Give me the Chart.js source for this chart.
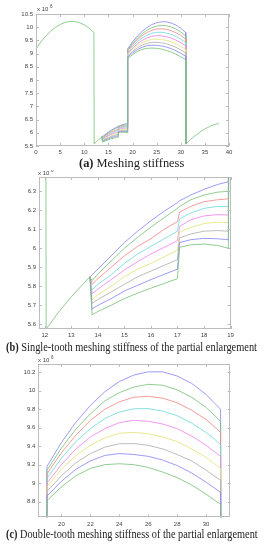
<!DOCTYPE html>
<html><head><meta charset="utf-8">
<script src="https://cdn.jsdelivr.net/npm/chart.js@4/dist/chart.umd.min.js"></script>
<style>
html,body{margin:0;padding:0;background:#fff;width:265px;height:550px;overflow:hidden;position:relative;}
canvas{position:absolute;left:0;}
.cap{position:absolute;left:0;top:0;font-family:"Liberation Serif","DejaVu Serif",serif;font-size:13px;color:#222;white-space:nowrap;transform-origin:0 50%;line-height:13px;}
.cap b{font-weight:bold;}
</style></head><body>
<canvas id="ca" width="265" height="160" style="top:0"></canvas>
<canvas id="cb" width="265" height="170" style="top:170px"></canvas>
<canvas id="cc" width="265" height="172" style="top:355px"></canvas>
<div class="cap" id="capA"><b>(a)</b> Meshing stiffness</div>
<div class="cap" id="capB"><b>(b)</b> Single-tooth meshing stiffness of the partial enlargement</div>
<div class="cap" id="capC"><b>(c)</b> Double-tooth meshing stiffness of the partial enlargement</div>
<script>
// ---------------- data (values in units of 10^6) ----------------
// first double-tooth interval, identical for every case
const firstDoubleX = [0, 1, 2, 3, 4, 5, 6, 7, 7.5, 8, 9, 10, 11, 12];
const firstDoubleY = [9.17, 9.44, 9.66, 9.84, 9.99, 10.10, 10.18, 10.215, 10.22, 10.215, 10.17, 10.09, 9.97, 9.80];

// shared start of the single-tooth interval
const sharedRiseX = [12.05, 12.5, 13, 13.5, 13.7];
const sharedRiseY = [5.575, 5.66, 5.745, 5.82, 5.85];

// single-tooth interval, part 1 (per case)
const singleX1 = [13.78, 14, 14.5, 15, 15.5, 16, 16.5, 17];
const single1 = [
  [5.86, 5.89, 5.96, 6.03, 6.09, 6.145, 6.195, 6.24],
  [5.83, 5.864, 5.933, 6.00, 6.058, 6.111, 6.161, 6.21],
  [5.81, 5.84, 5.90, 5.96, 6.01, 6.05, 6.10, 6.14],
  [5.78, 5.81, 5.86, 5.92, 5.97, 6.01, 6.05, 6.09],
  [5.76, 5.785, 5.835, 5.885, 5.93, 5.97, 6.005, 6.04],
  [5.73, 5.755, 5.80, 5.85, 5.89, 5.92, 5.955, 5.99],
  [5.71, 5.73, 5.77, 5.81, 5.85, 5.88, 5.91, 5.94],
  [5.68, 5.70, 5.735, 5.775, 5.805, 5.835, 5.863, 5.89],
  [5.65, 5.667, 5.70, 5.735, 5.764, 5.79, 5.815, 5.84]
];

// single-tooth interval, part 2 (per case)
const singleX2 = [17.08, 17.5, 18, 18.5, 18.92];
const single2 = [
  [6.25, 6.28, 6.31, 6.335, 6.35],
  [6.22, 6.255, 6.28, 6.295, 6.30],
  [6.19, 6.22, 6.245, 6.255, 6.26],
  [6.155, 6.185, 6.21, 6.22, 6.22],
  [6.115, 6.15, 6.17, 6.177, 6.175],
  [6.085, 6.11, 6.13, 6.137, 6.135],
  [6.055, 6.075, 6.09, 6.093, 6.09],
  [6.03, 6.045, 6.052, 6.05, 6.045],
  [6.005, 6.018, 6.022, 6.015, 6.00]
];

// double-tooth interval (per case)
const doubleX = [19, 20, 21, 22, 23, 24, 25, 26, 27, 28, 29, 30, 31];
const double1 = [
  [9.18, 9.44, 9.66, 9.84, 9.99, 10.10, 10.17, 10.205, 10.205, 10.16, 10.08, 9.96, 9.80],
  [9.14, 9.38, 9.585, 9.75, 9.89, 9.98, 10.04, 10.07, 10.06, 10.01, 9.93, 9.82, 9.67],
  [9.10, 9.33, 9.52, 9.68, 9.80, 9.88, 9.93, 9.94, 9.92, 9.87, 9.79, 9.69, 9.55],
  [9.05, 9.27, 9.45, 9.59, 9.70, 9.77, 9.805, 9.807, 9.78, 9.73, 9.65, 9.55, 9.42],
  [9.00, 9.20, 9.37, 9.50, 9.59, 9.655, 9.68, 9.67, 9.64, 9.59, 9.51, 9.41, 9.29],
  [8.96, 9.15, 9.30, 9.41, 9.49, 9.54, 9.55, 9.535, 9.50, 9.45, 9.37, 9.28, 9.16],
  [8.91, 9.08, 9.22, 9.32, 9.39, 9.426, 9.428, 9.41, 9.37, 9.31, 9.24, 9.14, 9.03],
  [8.86, 9.02, 9.15, 9.24, 9.30, 9.32, 9.31, 9.29, 9.25, 9.19, 9.11, 9.01, 8.90],
  [8.81, 8.96, 9.08, 9.16, 9.20, 9.21, 9.20, 9.17, 9.12, 9.06, 8.98, 8.88, 8.77]
];

// last single-tooth interval, identical for every case
const lastSingleX = [31.05, 31.5, 32, 32.5, 32.7, 33, 33.5, 34, 34.5, 35, 35.5, 36, 36.5, 37, 37.5, 37.9];
const lastSingleY = [5.575, 5.66, 5.745, 5.82, 5.85, 5.89, 5.96, 6.03, 6.09, 6.145, 6.195, 6.24, 6.28, 6.31, 6.335, 6.35];

// tick labels
const xTicksA = [0, 5, 10, 15, 20, 25, 30, 35, 40];
const yTicksA = [5.5, 6, 6.5, 7, 7.5, 8, 8.5, 9, 9.5, 10, 10.5];
const xTicksB = [12, 13, 14, 15, 16, 17, 18, 19];
const yTicksB = [5.6, 5.7, 5.8, 5.9, 6, 6.1, 6.2, 6.3];
const xTicksC = [20, 22, 24, 26, 28, 30];
const yTicksC = [8.8, 9, 9.2, 9.4, 9.6, 9.8, 10, 10.2];

// ---------------- styles ----------------
const lineColors = ['#8a8af4', '#7cc47c', '#f48a8a', '#74dada', '#f086f0', '#e4e47e', '#b0b0b0', '#8a8af4', '#7cc47c'];
const frameColor = '#bcbcbc';
const tickTextColor = '#444';

function pts(xs, ys) { return xs.map((x, i) => ({x: x, y: ys[i]})); }
// the shared (identical) parts are drawn once, by the case drawn on top
function seriesPoints(i, withShared) {
  const n = sharedRiseX.length - 1;
  const head = withShared
    ? [].concat(pts(firstDoubleX, firstDoubleY), pts(sharedRiseX, sharedRiseY))
    : [{x: sharedRiseX[n], y: sharedRiseY[n]}];
  const tail = withShared
    ? pts(lastSingleX, lastSingleY)
    : [{x: lastSingleX[0], y: lastSingleY[0]}];
  return [].concat(head,
    pts(singleX1, single1[i]),
    pts(singleX2, single2[i]),
    pts(doubleX, double1[i]),
    tail);
}
function makeDatasets() {
  const ds = [];
  const last = double1.length - 1;
  // MATLAB draws the last case on top; Chart.js draws dataset 0 on top
  for (let i = last; i >= 0; i--) {
    ds.push({data: seriesPoints(i, i === last), borderColor: lineColors[i], borderWidth: 0.85,
      pointRadius: 0, tension: 0, fill: false});
  }
  return ds;
}

const framePlugin = {
  id: 'frame',
  afterDatasetsDraw(chart, args, opts) {
    const {ctx, chartArea: a, scales} = chart;
    ctx.save();
    ctx.strokeStyle = frameColor;
    ctx.lineWidth = 1;
    ctx.strokeRect(Math.round(a.left) + 0.5, Math.round(a.top) + 0.5,
      Math.round(a.right - a.left) - 1, Math.round(a.bottom - a.top) - 1);
    const L = 3;
    ctx.beginPath();
    scales.x.ticks.forEach(t => {
      const p = Math.round(scales.x.getPixelForValue(t.value)) + 0.5;
      ctx.moveTo(p, a.bottom); ctx.lineTo(p, a.bottom - L);
      ctx.moveTo(p, a.top); ctx.lineTo(p, a.top + L);
    });
    scales.y.ticks.forEach(t => {
      const p = Math.round(scales.y.getPixelForValue(t.value)) + 0.5;
      ctx.moveTo(a.left, p); ctx.lineTo(a.left + L, p);
      ctx.moveTo(a.right, p); ctx.lineTo(a.right - L, p);
    });
    ctx.stroke();
    // exponent label
    ctx.fillStyle = tickTextColor;
    ctx.font = '6px "Liberation Sans", Arial, sans-serif';
    ctx.textBaseline = 'alphabetic';
    ctx.textAlign = 'left';
    ctx.fillText('x 10', opts.ex, opts.ey);
    ctx.font = '4.5px "Liberation Sans", Arial, sans-serif';
    ctx.fillText('6', opts.ex + 13, opts.ey - 3);
    ctx.restore();
  }
};

function fmt(v) { return String(+(+v).toFixed(2)); }

function makeChart(id, c) {
  return new Chart(document.getElementById(id), {
    type: 'line',
    data: {datasets: makeDatasets()},
    plugins: [framePlugin],
    options: {
      responsive: false, animation: false, devicePixelRatio: 1, events: [],
      layout: {padding: {top: c.padTop, right: c.padRight, left: 0, bottom: 0}},
      plugins: {legend: {display: false}, tooltip: {enabled: false},
        frame: {ex: c.ex, ey: c.ey}},
      scales: {
        x: {type: 'linear', min: c.xmin, max: c.xmax,
          afterBuildTicks: s => { s.ticks = c.xt.map(v => ({value: v})); },
          afterFit: s => { s.height = c.xH; },
          grid: {display: false, drawTicks: false}, border: {display: false},
          ticks: {autoSkip: false, maxRotation: 0, padding: 3, color: tickTextColor,
            font: {size: 6, family: '"Liberation Sans", Arial, sans-serif'}, callback: fmt}},
        y: {type: 'linear', min: c.ymin, max: c.ymax,
          afterBuildTicks: s => { s.ticks = c.yt.map(v => ({value: v})); },
          afterFit: s => { s.width = c.yW; },
          grid: {display: false, drawTicks: false}, border: {display: false},
          ticks: {autoSkip: false, padding: 3, color: tickTextColor,
            font: {size: 6, family: '"Liberation Sans", Arial, sans-serif'}, callback: fmt}}
      }
    }
  });
}

makeChart('ca', {xmin: 0, xmax: 40, ymin: 5.5, ymax: 10.5, xt: xTicksA, yt: yTicksA,
  padTop: 14, padRight: 36, xH: 14, yW: 36, ex: 37, ey: 11});
makeChart('cb', {xmin: 11.78, xmax: 19, ymin: 5.575, ymax: 6.375, xt: xTicksB, yt: yTicksB,
  padTop: 7, padRight: 34.5, xH: 11, yW: 39, ex: 38, ey: 5});
makeChart('cc', {xmin: 18.4, xmax: 31.7, ymin: 8.63, ymax: 10.29, xt: xTicksC, yt: yTicksC,
  padTop: 9, padRight: 34.3, xH: 9.7, yW: 38.3, ex: 38, ey: 7});

// captions: fit to the reference width and centre
function placeCap(id, cx, cy, w) {
  const el = document.getElementById(id);
  const ow = el.offsetWidth;
  const s = w / ow;
  el.style.left = (cx - w / 2) + 'px';
  el.style.top = (cy - 6.5) + 'px';
  el.style.transform = 'scaleX(' + s + ')';
}
placeCap('capA', 131.5, 162.5, 105);
placeCap('capB', 131.5, 346.5, 251);
placeCap('capC', 132, 533, 252);
</script>
</body></html>
